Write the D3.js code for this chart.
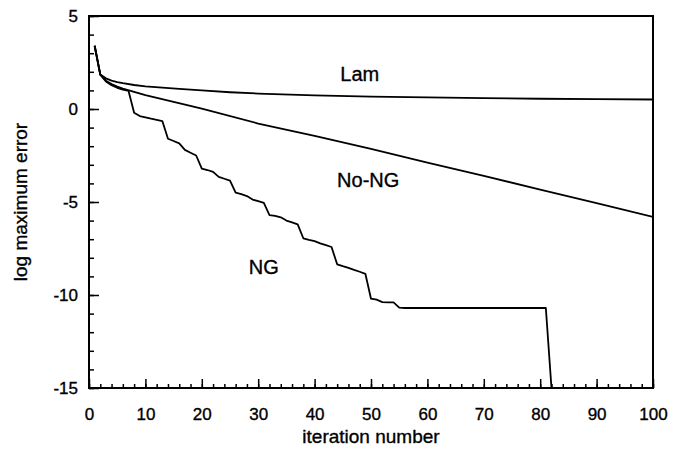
<!DOCTYPE html>
<html>
<head>
<meta charset="utf-8">
<script src="https://cdn.jsdelivr.net/npm/d3@7"></script>
<style>
  html, body { margin: 0; padding: 0; background: #fff; }
  svg { display: block; font-family: "Liberation Sans", Arial, Helvetica, sans-serif; }
  text { stroke: #000; stroke-width: 0.35px; }
</style>
</head>
<body>
<svg id="chart" width="686" height="452"></svg>
<script>
// ---- data ----
const lamX = [1, 2, 3, 4, 5, 6, 8, 10, 13, 16, 20, 25, 30, 40, 50, 60, 70, 80, 90, 100];
const lamY = [3.4, 1.85, 1.65, 1.53, 1.45, 1.39, 1.29, 1.22, 1.15, 1.08, 1.0, 0.9, 0.83, 0.73, 0.67, 0.62, 0.58, 0.55, 0.53, 0.51];

const noNgX = [1, 2, 3, 4, 5, 6, 8, 10, 15, 20, 30, 40, 50, 60, 70, 80, 90, 100];
const noNgY = [3.4, 1.85, 1.52, 1.34, 1.2, 1.1, 0.92, 0.75, 0.38, 0.02, -0.78, -1.45, -2.15, -2.88, -3.6, -4.33, -5.06, -5.8];

const ngX = [1, 2, 3, 4, 5, 6, 7, 8, 9, 10, 11, 12, 13, 14, 15, 16, 17, 18, 19, 20,
             21, 22, 23, 24, 25, 26, 27, 28, 29, 30, 31, 32, 33, 34, 35, 36, 37, 38, 39, 40,
             41, 42, 43, 44, 45, 46, 47, 48, 49, 50, 51, 52, 53, 54, 55, 56, 81, 82];
const ngY = [3.4, 1.85, 1.48, 1.28, 1.14, 1.04, 0.98, -0.2, -0.38, -0.45, -0.52, -0.58, -0.65, -1.6, -1.72, -1.85, -2.2, -2.35, -2.5, -3.2,
             -3.28, -3.38, -3.65, -3.75, -3.85, -4.5, -4.58, -4.68, -4.87, -4.95, -5.05, -5.7, -5.75, -5.82, -6.0, -6.1, -6.2, -6.95, -7.03, -7.1,
             -7.22, -7.32, -7.42, -8.35, -8.45, -8.54, -8.65, -8.75, -8.86, -10.2, -10.25, -10.38, -10.4, -10.4, -10.68, -10.7, -10.7, -15];

const xMajorTicks = [0, 10, 20, 30, 40, 50, 60, 70, 80, 90, 100];
const xMinorTicks = d3.range(0, 101, 2);
const yMajorTicks = [5, 0, -5, -10, -15];
const yMinorTicks = d3.range(-15, 6, 1);

const seriesLabels = [
  { text: "Lam", x: 48, y: 1.8 },
  { text: "No-NG", x: 49.5, y: -3.9 },
  { text: "NG", x: 31, y: -8.6 }
];
const xTitle = "iteration number";
const yTitle = "log maximum error";

// ---- layout ----
const svg = d3.select("#chart");
const mLeft = 89, mRight = 653, mTop = 16, mBottom = 388;

const x = d3.scaleLinear().domain([0, 100]).range([mLeft, mRight]);
const y = d3.scaleLinear().domain([-15, 5]).range([mBottom, mTop]);
const fmt = d => String(d);   // plain hyphen-minus, as in the reference

// frame
svg.append("rect")
  .attr("x", mLeft).attr("y", mTop)
  .attr("width", mRight - mLeft).attr("height", mBottom - mTop)
  .attr("fill", "none").attr("stroke", "#000").attr("stroke-width", 2);

// x minor ticks (inward)
svg.append("g")
  .attr("transform", `translate(0,${mBottom})`)
  .call(d3.axisBottom(x).tickValues(xMinorTicks).tickSize(-4).tickFormat(""))
  .call(g => g.select(".domain").remove())
  .call(g => g.selectAll("line").attr("stroke-width", 1.5));

// x major ticks + labels
svg.append("g")
  .attr("transform", `translate(0,${mBottom})`)
  .call(d3.axisBottom(x).tickValues(xMajorTicks).tickSize(-9).tickPadding(20).tickFormat(fmt))
  .call(g => g.select(".domain").remove())
  .call(g => g.selectAll("line").attr("stroke-width", 1.5))
  .call(g => g.selectAll("text")
      .attr("font-size", 17).attr("fill", "#000")
      .attr("font-family", "'Liberation Sans', Arial, sans-serif"));

// y minor ticks
svg.append("g")
  .attr("transform", `translate(${mLeft},0)`)
  .call(d3.axisLeft(y).tickValues(yMinorTicks).tickSize(-5).tickFormat(""))
  .call(g => g.select(".domain").remove())
  .call(g => g.selectAll("line").attr("stroke-width", 1.5));

// y major ticks + labels
svg.append("g")
  .attr("transform", `translate(${mLeft},0)`)
  .call(d3.axisLeft(y).tickValues(yMajorTicks).tickSize(-10).tickPadding(11).tickFormat(fmt))
  .call(g => g.select(".domain").remove())
  .call(g => g.selectAll("line").attr("stroke-width", 1.5))
  .call(g => g.selectAll("text")
      .attr("font-size", 17).attr("fill", "#000")
      .attr("font-family", "'Liberation Sans', Arial, sans-serif"));

// lines
const line = d3.line().x(d => x(d[0])).y(d => y(d[1]));
svg.append("clipPath").attr("id", "plotclip")
  .append("rect").attr("x", mLeft).attr("y", mTop).attr("width", mRight - mLeft).attr("height", mBottom - mTop);

const series = [
  d3.zip(lamX, lamY),
  d3.zip(noNgX, noNgY),
  d3.zip(ngX, ngY)
];
svg.append("g").attr("clip-path", "url(#plotclip)")
  .selectAll("path").data(series).join("path")
  .attr("d", line)
  .attr("fill", "none")
  .attr("stroke", "#000")
  .attr("stroke-width", 1.8)
  .attr("stroke-linejoin", "round");

// series labels
svg.selectAll("text.series").data(seriesLabels).join("text")
  .attr("class", "series")
  .attr("x", d => x(d.x)).attr("y", d => y(d.y))
  .attr("text-anchor", "middle")
  .attr("dominant-baseline", "middle")
  .attr("font-size", 20)
  .attr("fill", "#000")
  .text(d => d.text);

// axis titles
svg.append("text")
  .attr("x", (mLeft + mRight) / 2).attr("y", 443)
  .attr("text-anchor", "middle")
  .attr("font-size", 19)
  .text(xTitle);

svg.append("text")
  .attr("transform", `translate(27,${(mTop + mBottom) / 2}) rotate(-90)`)
  .attr("text-anchor", "middle")
  .attr("font-size", 19)
  .text(yTitle);
</script>
</body>
</html>
